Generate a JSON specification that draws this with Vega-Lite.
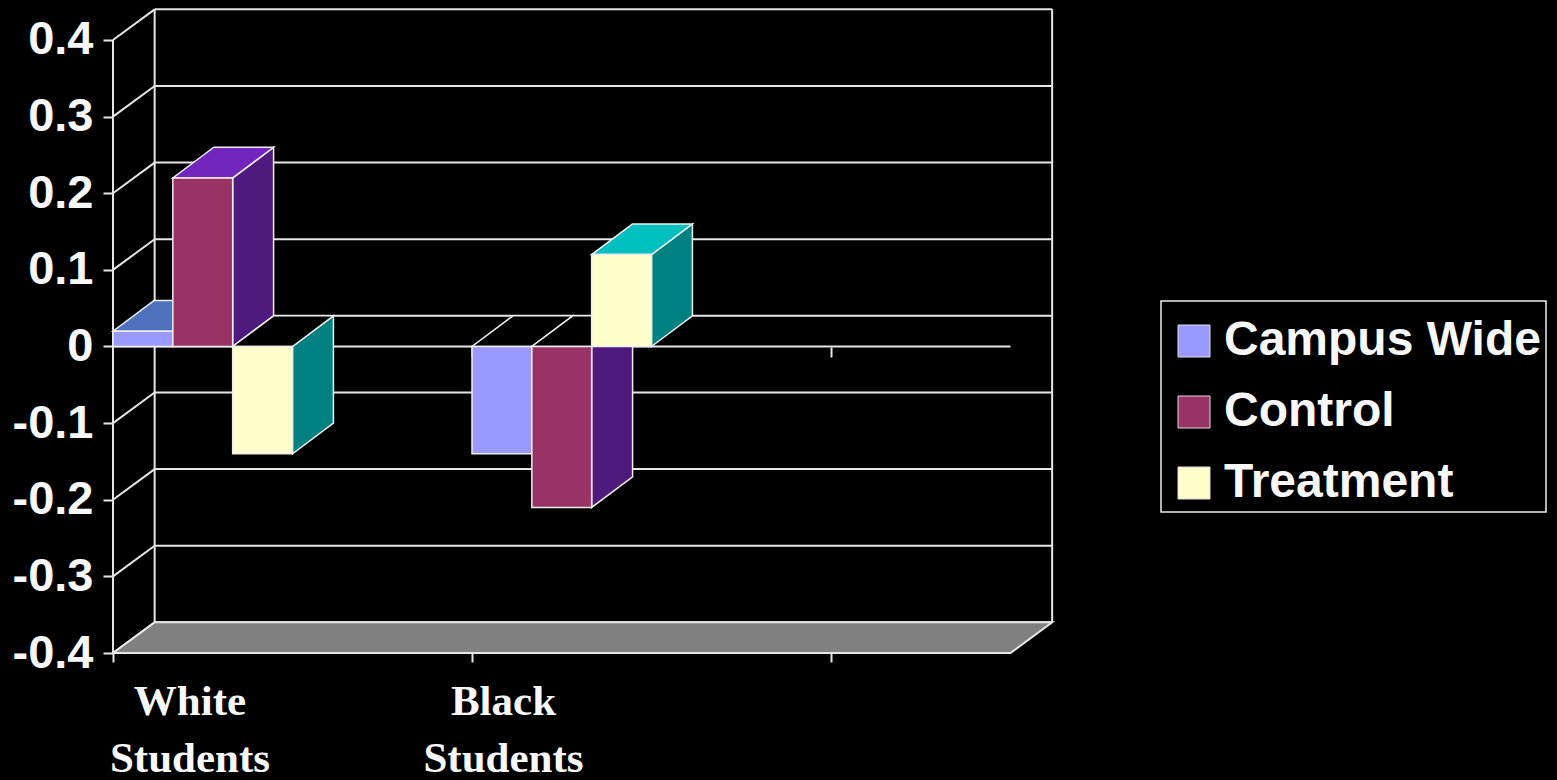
{
  "$schema": "https://vega.github.io/schema/vega-lite/v6.json",
  "width": 1444,
  "height": 780,
  "autosize": {"type": "none"},
  "padding": {"left": 113, "top": 0, "right": 0, "bottom": 0},
  "background": "#000000",
  "config": {"view": {"stroke": null}, "legend": {"strokeWidth": 1.5}},
  "datasets": {
    "bars": [
      {"group": "White Students", "series": "Campus Wide", "value": 0.02},
      {"group": "White Students", "series": "Control", "value": 0.22},
      {"group": "White Students", "series": "Treatment", "value": -0.14},
      {"group": "Black Students", "series": "Campus Wide", "value": -0.14},
      {"group": "Black Students", "series": "Control", "value": -0.21},
      {"group": "Black Students", "series": "Treatment", "value": 0.12}
    ],
    "yticks": [
      {"v": -0.4}, {"v": -0.3}, {"v": -0.2}, {"v": -0.1}, {"v": 0},
      {"v": 0.1}, {"v": 0.2}, {"v": 0.3}, {"v": 0.4}
    ]
  },
  "resolve": {"scale": {"color": "independent"}, "axis": {"x": "independent", "y": "independent"}},
  "layer": [
    {
      "data": {"name": "yticks"},
      "transform": [{"calculate": "datum.v + 0.04", "as": "vb"}],
      "mark": {"type": "rule", "color": "#E6E6E6", "strokeWidth": 2},
      "encoding": {
        "x": {"datum": 0.116, "type": "quantitative", "scale": {"domain": [0, 4.0223], "nice": false, "zero": false}, "axis": null},
        "x2": {"datum": 2.616},
        "y": {"field": "vb", "type": "quantitative", "scale": {"domain": [-0.56574, 0.4522], "nice": false, "zero": false}, "axis": null}
      }
    },
    {
      "data": {"name": "yticks"},
      "transform": [{"calculate": "datum.v + 0.04", "as": "vb"}],
      "mark": {"type": "rule", "color": "#E6E6E6", "strokeWidth": 2},
      "encoding": {
        "x": {"datum": 0, "type": "quantitative", "scale": {"domain": [0, 4.0223], "nice": false, "zero": false}, "axis": null},
        "x2": {"datum": 0.116},
        "y": {"field": "v", "type": "quantitative", "scale": {"domain": [-0.56574, 0.4522], "nice": false, "zero": false},
          "axis": {"orient": "left", "values": [-0.4, -0.3, -0.2, -0.1, 0, 0.1, 0.2, 0.3, 0.4], "labelExpr": "'' + datum.value", "domain": false, "grid": false, "ticks": true, "tickSize": 10, "tickColor": "#E6E6E6", "tickWidth": 2, "labelFont": "Liberation Sans", "labelFontWeight": "bold", "labelFontSize": 47, "labelColor": "#F8F8F8", "labelPadding": 10, "labelFlush": false, "labelOverlap": false, "labelBound": false, "labelBaseline": "middle", "title": null}},
        "y2": {"field": "vb"}
      }
    },
    {
      "data": {"values": [{}]},
      "mark": {"type": "rule", "color": "#E6E6E6", "strokeWidth": 2},
      "encoding": {
        "x": {"datum": 0.116, "type": "quantitative", "scale": {"domain": [0, 4.0223], "nice": false, "zero": false}, "axis": null},
        "y": {"datum": -0.36, "type": "quantitative", "scale": {"domain": [-0.56574, 0.4522], "nice": false, "zero": false}, "axis": null},
        "y2": {"datum": 0.44}
      }
    },
    {
      "data": {"values": [{}]},
      "mark": {"type": "rule", "color": "#E6E6E6", "strokeWidth": 2},
      "encoding": {
        "x": {"datum": 2.616, "type": "quantitative", "scale": {"domain": [0, 4.0223], "nice": false, "zero": false}, "axis": null},
        "y": {"datum": -0.36, "type": "quantitative", "scale": {"domain": [-0.56574, 0.4522], "nice": false, "zero": false}, "axis": null},
        "y2": {"datum": 0.44}
      }
    },
    {
      "data": {"name": "yticks"},
      "transform": [
        {"aggregate": [{"op": "min", "field": "v", "as": "v"}]},
        {"calculate": "[0, 1]", "as": "t"},
        {"flatten": ["t"]},
        {"calculate": "datum.v + datum.t * 0.04", "as": "fy"},
        {"calculate": "datum.t * 0.116", "as": "fx"},
        {"calculate": "2.5 + datum.t * 0.116", "as": "fx2"}
      ],
      "mark": {"type": "area", "orient": "horizontal", "fill": "#808080", "stroke": "#E6E6E6", "strokeWidth": 2, "opacity": 1},
      "encoding": {
        "x": {"field": "fx", "type": "quantitative", "stack": null, "scale": {"domain": [0, 4.0223], "nice": false, "zero": false},
          "axis": {"orient": "bottom", "offset": -127, "values": [0, 1, 2], "tickSize": 9, "tickColor": "#E6E6E6", "tickWidth": 2, "labels": false, "domain": false, "grid": false, "title": null}},
        "x2": {"field": "fx2"},
        "y": {"field": "fy", "type": "quantitative", "scale": {"domain": [-0.56574, 0.4522], "nice": false, "zero": false}, "axis": null}
      }
    },
    {
      "data": {"values": [{}]},
      "mark": {"type": "rule", "color": "#E6E6E6", "strokeWidth": 2},
      "encoding": {
        "x": {"datum": 0, "type": "quantitative", "scale": {"domain": [0, 4.0223], "nice": false, "zero": false},
          "axis": {"orient": "bottom", "offset": -433, "values": [1, 2], "tickSize": 10, "tickColor": "#E6E6E6", "tickWidth": 2, "labels": false, "domain": false, "grid": false, "title": null}},
        "x2": {"datum": 2.5},
        "y": {"datum": 0, "type": "quantitative", "scale": {"domain": [-0.56574, 0.4522], "nice": false, "zero": false}, "axis": null}
      }
    },
    {
      "data": {"values": [{}]},
      "mark": {"type": "rule", "color": "#E6E6E6", "strokeWidth": 2},
      "encoding": {
        "x": {"datum": 0, "type": "quantitative", "scale": {"domain": [0, 4.0223], "nice": false, "zero": false}, "axis": null},
        "y": {"datum": -0.4, "type": "quantitative", "scale": {"domain": [-0.56574, 0.4522], "nice": false, "zero": false}, "axis": null},
        "y2": {"datum": 0.4}
      }
    },
    {
      "data": {"name": "bars"},
      "transform": [
        {"calculate": "indexof(['White Students', 'Black Students'], datum.group)", "as": "gi"},
        {"calculate": "indexof(['Campus Wide', 'Control', 'Treatment'], datum.series)", "as": "si"},
        {"calculate": "datum.gi + datum.si / 6", "as": "x0"},
        {"calculate": "datum.x0 + 1 / 6", "as": "x1"},
        {"calculate": "[0, 1]", "as": "t"},
        {"flatten": ["t"]},
        {"calculate": "datum.x1 + datum.t * 0.114", "as": "sx"},
        {"calculate": "datum.t * 0.04", "as": "sy"},
        {"calculate": "datum.value + datum.t * 0.04", "as": "sy2"}
      ],
      "mark": {"type": "area", "orient": "vertical", "stroke": "#EEEEEE", "strokeWidth": 1.5, "opacity": 1},
      "encoding": {
        "x": {"field": "sx", "type": "quantitative", "scale": {"domain": [0, 4.0223], "nice": false, "zero": false}, "axis": null},
        "y": {"field": "sy", "type": "quantitative", "stack": null, "scale": {"domain": [-0.56574, 0.4522], "nice": false, "zero": false}, "axis": null},
        "y2": {"field": "sy2"},
        "color": {"field": "series", "type": "nominal", "scale": {"domain": ["Campus Wide", "Control", "Treatment"], "range": ["#3C5BA5", "#4E1A7E", "#008080"]}, "legend": null},
        "detail": {"field": "group"}
      }
    },
    {
      "data": {"name": "bars"},
      "transform": [
        {"calculate": "indexof(['White Students', 'Black Students'], datum.group)", "as": "gi"},
        {"calculate": "indexof(['Campus Wide', 'Control', 'Treatment'], datum.series)", "as": "si"},
        {"calculate": "datum.gi + datum.si / 6", "as": "x0"},
        {"calculate": "datum.x0 + 1 / 6", "as": "x1"},
        {"calculate": "max(datum.value, 0)", "as": "tv"},
        {"calculate": "datum.value > 0 ? datum.series : 'none'", "as": "topkey"},
        {"calculate": "[0, 1]", "as": "t"},
        {"flatten": ["t"]},
        {"calculate": "datum.tv + datum.t * 0.04", "as": "ty"},
        {"calculate": "datum.x0 + datum.t * 0.114", "as": "tx"},
        {"calculate": "datum.x1 + datum.t * 0.114", "as": "tx2"}
      ],
      "mark": {"type": "area", "orient": "horizontal", "stroke": "#EEEEEE", "strokeWidth": 1.5, "opacity": 1},
      "encoding": {
        "y": {"field": "ty", "type": "quantitative", "scale": {"domain": [-0.56574, 0.4522], "nice": false, "zero": false}, "axis": null},
        "x": {"field": "tx", "type": "quantitative", "stack": null, "scale": {"domain": [0, 4.0223], "nice": false, "zero": false}, "axis": null},
        "x2": {"field": "tx2"},
        "color": {"field": "topkey", "type": "nominal", "scale": {"domain": ["Campus Wide", "Control", "Treatment", "none"], "range": ["#4F72BF", "#7326BE", "#00BFBF", "#000000"]}, "legend": null},
        "detail": [{"field": "group"}, {"field": "series"}]
      }
    },
    {
      "data": {"name": "bars"},
      "transform": [
        {"calculate": "indexof(['White Students', 'Black Students'], datum.group)", "as": "gi"},
        {"calculate": "indexof(['Campus Wide', 'Control', 'Treatment'], datum.series)", "as": "si"},
        {"calculate": "datum.gi + datum.si / 6", "as": "x0"},
        {"calculate": "datum.x0 + 1 / 6", "as": "x1"}
      ],
      "mark": {"type": "rect", "stroke": "#EEEEEE", "strokeWidth": 1.5, "opacity": 1},
      "encoding": {
        "x": {"field": "x0", "type": "quantitative", "scale": {"domain": [0, 4.0223], "nice": false, "zero": false}, "axis": null},
        "x2": {"field": "x1"},
        "y": {"field": "value", "type": "quantitative", "scale": {"domain": [-0.56574, 0.4522], "nice": false, "zero": false}, "axis": null},
        "y2": {"datum": 0},
        "color": {"field": "series", "type": "nominal",
          "scale": {"domain": ["Campus Wide", "Control", "Treatment"], "range": ["#9999FF", "#993366", "#FFFFCC"]},
          "legend": {"orient": "none", "legendX": 1048, "legendY": 301, "title": " ", "titleFontSize": 4, "titlePadding": 7, "symbolType": "square", "symbolSize": 1024, "symbolStrokeColor": "#DDDDDD", "symbolStrokeWidth": 1, "symbolOpacity": 1, "symbolOffset": 4, "labelFont": "Liberation Sans", "labelFontWeight": "bold", "labelFontSize": 48, "labelColor": "#F8F8F8", "labelOffset": 6, "labelLimit": 0, "rowPadding": 23, "padding": 5, "strokeColor": "#EEEEEE", "fillColor": "#000000"}}
      }
    },
    {
      "data": {"name": "bars"},
      "transform": [
        {"aggregate": [{"op": "count", "as": "n"}], "groupby": ["group"]},
        {"calculate": "indexof(['White Students', 'Black Students'], datum.group)", "as": "gi"},
        {"calculate": "split(datum.group, ' ')", "as": "lines"},
        {"calculate": "0.2145 + 0.8732 * datum.gi", "as": "lx"}
      ],
      "mark": {"type": "text", "font": "Liberation Serif", "fontWeight": "bold", "fontSize": 43, "color": "#F8F8F8", "align": "center", "baseline": "alphabetic", "lineHeight": 57},
      "encoding": {
        "x": {"field": "lx", "type": "quantitative", "scale": {"domain": [0, 4.0223], "nice": false, "zero": false}, "axis": null},
        "y": {"datum": -0.4809, "type": "quantitative", "scale": {"domain": [-0.56574, 0.4522], "nice": false, "zero": false}, "axis": null},
        "text": {"field": "lines"}
      }
    }
  ]
}
